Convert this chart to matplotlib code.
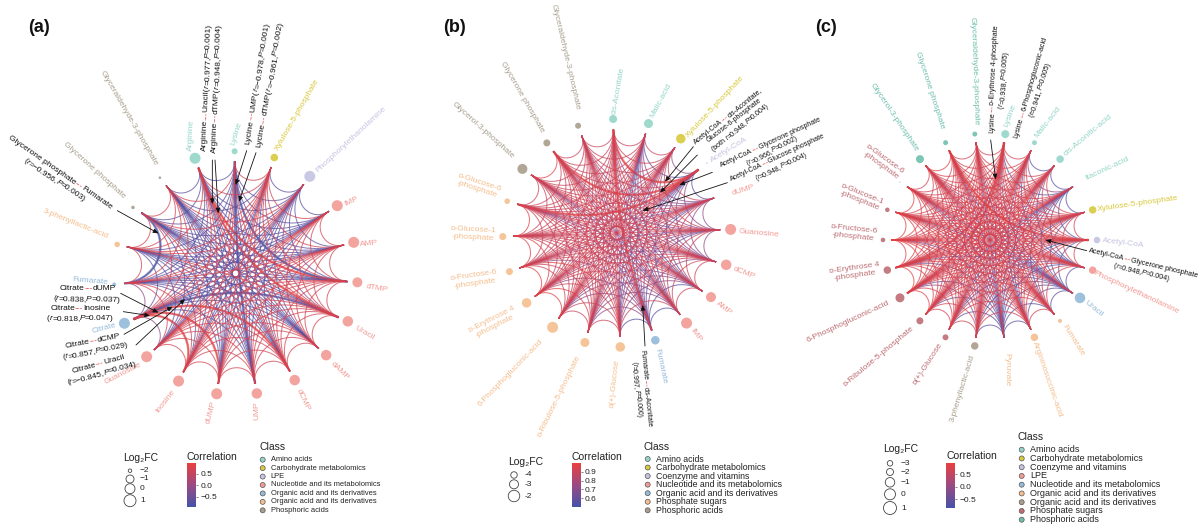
import re
import numpy as np
import matplotlib
matplotlib.use('Agg')
import matplotlib.pyplot as plt
from matplotlib.path import Path
from matplotlib.patches import PathPatch
from matplotlib.collections import PathCollection
from matplotlib.colors import LinearSegmentedColormap, Normalize
from matplotlib.cm import ScalarMappable

plt.rcParams['font.family'] = ['Liberation Sans', 'DejaVu Sans']

# ---------- data ----------
names_a = ['Arginine', 'Lysine', 'Xylulose-5-phosphate', 'Phosphorylethanolamine', 'IMP', 'AMP', 'dTMP', 'Uracil',
           'dAMP', 'dCMP', 'UMP', 'dUMP', 'Inosine', 'Guanosine', 'Citrate', 'Fumarate', '3-phenyllactic-acid',
           'Glycerone phosphate', 'Glyceraldehyde-3-phosphate']
fc_a = [.5, -1.45, -1.1, .5, .5, .5, 0, .25, .25, .25, .25, .5, .5, .5, .5, -1.9, -1.55, -2, -2.25]
class_a = ['amino', 'amino', 'carb', 'lpe', 'nuc', 'nuc', 'nuc', 'nuc', 'nuc', 'nuc', 'nuc', 'nuc', 'nuc', 'nuc',
           'org', 'org', 'orange', 'phos', 'phos']
links_a = ["brbbbRRbrbbrrpbrbb", "rbbbBrbbBbrbrbbbr", "brrrrbrrrbbrrrrb", "bbbpbbbbbrbrrbr", "rrrrrbrrrrbbbb",
           "rrrrrrrrbrbbb", "rrrrrrrbbbbb", "rrrrrrbbrbb", "rrrrrbbbbb", "rrrrRbbbb", "rrrbbbbb", "rrRbbbb",
           "rRrbrb", "prbbb", "pbrr", "rBr", "rr", "r"]
codes_a = {'R': .9, 'r': .7, 'p': -.1, 'b': -.7, 'B': -.9}
strong_a = [('Arginine', 'Uracil'), ('Arginine', 'dTMP'), ('Lysine', 'UMP'), ('Lysine', 'dTMP'),
            ('Glycerone phosphate', 'Fumarate'), ('Citrate', 'dUMP'), ('Citrate', 'Inosine'), ('Citrate', 'dCMP'),
            ('Citrate', 'Uracil')]

names_b = ['cis-Aconitate', 'Malic-acid', 'Xylulose-5-phosphate', 'Acetyl-CoA', 'dUMP', 'Guanosine', 'dCMP', 'AMP',
           'IMP', 'Fumarate', 'ᴅ(+)-Glucose', 'ᴅ-Ribulose-5-phosphate', '6-Phosphogluconic-acid',
           'ᴅ-Erythrose 4\n-phosphate', 'ᴅ-Fructose-6\n-phosphate', 'ᴅ-Glucose-1\n-phosphate',
           'ᴅ-Glucose-6\n-phosphate', 'Glycerol-3-phosphate', 'Glycerone phosphate', 'Glyceraldehyde-3-phosphate']
fc_b = [-3.4, -3, -2.8, -7.1, -8, -2.2, -2.4, -2.6, -2.2, -3.2, -2.8, -3, -2.2, -2.8, -3.8, -3.8, -4.6, -2.6, -3.8, -4.3]
class_b = ['amino', 'amino', 'carb', 'coenz', 'nuc', 'nuc', 'nuc', 'nuc', 'nuc', 'org', 'orange', 'orange', 'orange',
           'orange', 'orange', 'orange', 'orange', 'phos', 'phos', 'phos']
links_b = ["rrRmrrmrRrrrrrrrrrr", "rbmmmbbbbmrrrrrrrr", "mrrmrrmmrrrrrrrrr", "bmmbbmbmrrrrRrRr", "mmrrbmrrrrrmrrm",
           "mrrbmmrrmrrrmr", "rrmrrrmrrrrrr", "rbmmmrrrmmrr", "brmmrrrmmmr", "bmmmmrmmrm", "rrrRrrrrr", "rRrrrrrr",
           "RrrrrRr", "RRrrrr", "Rrrrr", "Rrrr", "rrr", "Rr", "r"]
codes_b = {'R': .97, 'r': .9, 'm': .72, 'b': .56}
strong_b = [('Acetyl-CoA', 'cis-Aconitate'), ('Acetyl-CoA', 'ᴅ-Glucose-6\n-phosphate'),
            ('Acetyl-CoA', 'Glycerone phosphate'), ('Fumarate', 'cis-Aconitate')]

names_c = ['Lysine', 'Malic-acid', 'cis-Aconitic-acid', 'Itaconic-acid', 'Xylulose-5-phosphate', 'Acetyl-CoA',
           'Phosphorylethanolamine', 'Uracil', 'Fumarate', 'Argininosuccinic-acid', 'Pyruvate', '3-phenyllactic-acid',
           'ᴅ(+)-Glucose', 'ᴅ-Ribulose-5-phosphate', '6-Phosphogluconic-acid', 'ᴅ-Erythrose 4\n-phosphate',
           'ᴅ-Fructose-6\n-phosphate', 'ᴅ-Glucose-1\n-phosphate', 'ᴅ-Glucose-6\n-phosphate', 'Glycerol-3-phosphate',
           'Glycerone phosphate', 'Glyceraldehyde-3-phosphate']
fc_c = [-1.6, -3.4, -1.8, -7, -1.8, -2.3, -1.8, -.3, -4.1, -1.8, -7, -1.8, -2.7, -2, -1.2, -1.8, -3.7, -3.7, -6.3,
        -1.6, -3.4, -3.4]
class_c = ['amino', 'amino', 'amino', 'amino', 'carb', 'coenz', 'lpe', 'nuc', 'orange', 'orange', 'orange', 'phos',
           'sugar', 'sugar', 'sugar', 'sugar', 'sugar', 'sugar', 'sugar', 'teal', 'teal', 'teal']
links_c = ["rrbrrrbrrprrrrrRrrrrr", "bprrbrrbrrrrrrrrrrrr", "brrbrrbrrrrrrrrrrrr", "bbbbbpbpbbprrrrprr",
           "rrbrrbrrrrrrrrrrr", "rbrrbrrrrrrrrrRr", "brrbrprrrrrrrrr", "bbbbbprbpbbpbb", "rbrrrrrrrrrrr",
           "brrrrrrrrrrr", "bbbbbbpbpbb", "rrprrrprrr", "rrrrRrrrr", "RrRrrrrr", "RRrrrrr", "RRrrrr", "RRrrr",
           "Rrrr", "rrr", "Rr", "r"]
codes_c = {'R': .9, 'r': .7, 'p': .05, 'b': -.6}
strong_c = [('Lysine', 'ᴅ-Erythrose 4\n-phosphate'), ('Lysine', '6-Phosphogluconic-acid'),
            ('Acetyl-CoA', 'Glycerone phosphate')]

# legend contents
fc_ticks_a, fc_diam_a = [-2, -1, 0, 1], [3.5, 8, 10, 12]
fc_ticks_b, fc_diam_b = [-4, -3, -2], [6.5, 9, 11.5]
fc_ticks_c, fc_diam_c = [-3, -2, -1, 0, 1], [5.5, 7, 9.5, 11, 13]
fc_labels_a = ['−2', '−1', '0', '1']
fc_labels_b = ['-4', '-3', '-2']
fc_labels_c = ['−3', '−2', '−1', '0', '1']
legend_names_a = ['Amino acids', 'Carbohydrate metabolomics', 'LPE', 'Nucleotide and its metabolomics',
                  'Organic acid and its derivatives', 'Organic acid and its derivatives', 'Phosphoric acids']
legend_keys_a = ['amino', 'carb', 'lpe', 'nuc', 'org', 'orange', 'phos']
legend_names_b = ['Amino acids', 'Carbohydrate metabolomics', 'Coenzyme and vitamins', 'Nucleotide and its metabolomics',
                  'Organic acid and its derivatives', 'Phosphate sugars', 'Phosphoric acids']
legend_keys_b = ['amino', 'carb', 'coenz', 'nuc', 'org', 'orange', 'phos']
legend_names_c = ['Amino acids', 'Carbohydrate metabolomics', 'Coenzyme and vitamins', 'LPE',
                  'Nucleotide and its metabolomics', 'Organic acid and its derivatives',
                  'Organic acid and its derivatives', 'Phosphate sugars', 'Phosphoric acids']
legend_keys_c = ['amino', 'carb', 'coenz', 'lpe', 'org', 'orange', 'phos', 'sugar', 'teal']

# ---------- styles ----------
colors = {'amino': '#93D6C8', 'carb': '#D8C93E', 'lpe': '#C4C4E2', 'coenz': '#C4C4E2', 'nuc': '#F29A94',
          'org': '#94BAD9', 'orange': '#F4BE8E', 'phos': '#A89E8C', 'sugar': '#BE6E74', 'teal': '#6FBFAC'}
colors_c = dict(colors, lpe='#F29A94', nuc='#94BAD9')
cmap = LinearSegmentedColormap.from_list('corr', ['#4652A8', '#9A4A84', '#E8403F'])

# node label centres and rotation, read in the 3x crops of each panel
lab_a = [(574, 407, 87), (711, 400, 73), (893, 345, 60), (1052, 420, 43), (1055, 605, 25), (1108, 730, 5),
         (1130, 865, -10), (1092, 1000, -30), (1018, 1112, -45), (910, 1200, -65), (772, 1232, 90), (633, 1238, 75),
         (495, 1205, 52), (370, 1120, 27), (312, 985, 15), (270, 843, -5), (225, 672, -22), (283, 512, -42),
         (385, 355, -60)]
lab_b = [(656, 272, 80), (784, 303, 62), (946, 320, 47), (987, 450, 32), (1030, 570, 17), (1078, 700, -5),
         (1032, 820, -22), (972, 925, -38), (888, 1005, -55), (782, 1100, -78), (645, 1150, 84), (477, 1188, 64),
         (332, 1120, 46), (280, 970, 27), (224, 838, 8), (218, 702, -3), (235, 558, -18), (250, 392, -42),
         (366, 290, -60), (495, 172, -77)]
lab_c = [(630, 347, 70), (743, 365, 52), (863, 407, 40), (922, 505, 25), (1012, 612, 8), (970, 730, -7),
         (1008, 877, -25), (882, 925, -40), (820, 1020, -58), (743, 1138, -71), (622, 1110, -90), (487, 1165, 73),
         (382, 1092, 57), (235, 1070, 40), (145, 964, 25), (165, 815, 8), (160, 698, -6), (182, 592, -22),
         (248, 488, -36), (282, 352, -56), (390, 271, -72), (522, 212, -88)]

notes_a = [('Arginine---Uracil(r=0.977,P=0.001)', 618, 262, 88), ('Arginine---dTMP(r=0.948,P=0.004)', 648, 266, 88),
           ('Lycine---UMP(r=−0.978,P=0.001)', 770, 250, 81), ('Lycine---dTMP(r=−0.961,P=0.002)', 808, 254, 80),
           ('Glycerone phosphate---Fumarate', 182, 515, -35), ('(r=−0.956,P=0.003)', 165, 538, -34),
           ('Citrate---dUMP', 262, 862, 0), ('(r=0.838,P=0.037)', 260, 895, -2),
           ('Citrate---Inosine', 241, 922, 0), ('(r=0.818,P=0.047)', 241, 953, 0),
           ('Citrate---dCMP', 278, 1020, 11), ('(r=0.857,P=0.029)', 286, 1050, 11),
           ('Citrate---Uracil', 294, 1090, 15), ('(r=−0.845,P=0.034)', 305, 1118, 15)]
arrows_a = [(637, 480, 637, 612), (645, 480, 655, 640), (740, 452, 707, 555), (768, 458, 717, 605),
            (352, 632, 475, 700), (362, 880, 475, 938), (370, 935, 450, 947), (372, 1003, 518, 920),
            (408, 1035, 555, 897)]
notes_b = [('Acetyl-CoA---cis-Aconitate,', 982, 347, 39), ('Glucose-6-phosphate', 1001, 360, 38),
           ('(both r=0.948,P=0.004)', 1020, 380, 39), ('Acetyl-CoA---Glycerone phosphate', 1110, 426, 25),
           ('(r=0.966,P=0.002)', 1116, 450, 27), ('Acetyl-CoA---Glucose phosphate', 1131, 471, 25),
           ('(r=0.948,P=0.004)', 1143, 498, 25), ('Fumarate---cis-Aconitate', 740, 1166, -84),
           ('(r=0.997,P=0.000)', 712, 1169, -85)]
arrows_b = [(880, 440, 795, 545), (892, 465, 780, 578), (937, 517, 838, 555), (982, 548, 728, 632),
            (735, 1038, 728, 915)]
notes_c = [('Lysine---ᴅ-Erythrose 4-phosphate', 580, 236, 87), ('(r=0.938,P=0.005)', 609, 238, 85),
           ('Lysine---6-Phosphogluconic-acid', 690, 262, 74), ('(r=0.941,P=0.005)', 718, 268, 72),
           ('Acetyl-CoA---Glycerone phosphate', 1030, 787, -13), ('(r=0.948,P=0.004)', 1026, 815, -14)]
arrows_c = [(572, 420, 587, 538), (860, 752, 737, 720)]

fig = plt.figure(figsize=(12, 5.26), dpi=100)
ax = fig.add_axes([0, 0, 1, 1])
ax.set_xlim(0, 1200)
ax.set_ylim(526, 0)
ax.axis('off')
renderer = fig.canvas.get_renderer()


def diam_to_s(d):
    return (np.asarray(d) * 0.72) ** 2


def arc_path(a, b, cx, cy, r):
    # near circular arc meeting the ring at right angles, pulled tighter for far apart nodes
    pa = np.array([np.cos(a), np.sin(a)])
    pb = np.array([np.cos(b), np.sin(b)])
    phi = np.arccos(np.clip(pa @ pb, -1, 1))
    h = 4 / 3 * np.tan((np.pi - phi) / 4) * np.tan(phi / 2)
    t = (1 - h) * (1 - 0.6 * (phi / np.pi) ** 2)
    pts = np.array([pa, pa * t, pb * t, pb]) * r
    pts = pts * [1, -1] + [cx, cy]
    return Path(pts, [Path.MOVETO, Path.CURVE4, Path.CURVE4, Path.CURVE4])


def seg_width(txt, size, style):
    t1 = ax.text(0, 0, txt + '.', fontsize=size, style=style)
    t2 = ax.text(0, 0, '.', fontsize=size, style=style)
    w = t1.get_window_extent(renderer).width - t2.get_window_extent(renderer).width
    t1.remove()
    t2.remove()
    return w


def note(txt, x, y, rot, size):
    # callout text: red dashes, italic r and P
    parts = [p for p in re.split(r'(---|\br(?==)|\bP(?==))', txt) if p]
    widths = []
    for p in parts:
        widths.append(seg_width(p, size, 'italic' if p in ('r', 'P') else 'normal'))
    pos = -sum(widths) / 2
    ca, sa = np.cos(np.radians(rot)), np.sin(np.radians(rot))
    for p, w in zip(parts, widths):
        px, py = x + (pos + w / 2) * ca, y - (pos + w / 2) * sa
        col = '#E5383B' if p == '---' else '#111111'
        ax.text(px, py, p, fontsize=size, color=col, rotation=rot, rotation_mode='anchor',
                ha='center', va='center_baseline', style='italic' if p in ('r', 'P') else 'normal')
        pos += w


def panel(names, fc, classes, links, codes, strong, pal, cx, cy, r, rm, start, ox, labs, notes, arrows,
          vmin, vmax, tick_vals, tick_diam, note_size):
    n = len(names)
    angles = np.radians(start - np.arange(n) * 360 / n)
    norm = Normalize(vmin, vmax)
    idx = {name: i for i, name in enumerate(names)}
    for pair in strong:
        i, j = idx[pair[0]], idx[pair[1]]
        ch = links[min(i, j)][max(i, j) - min(i, j) - 1]
        ax.add_patch(PathPatch(arc_path(angles[i], angles[j], cx, cy, r), fc='none',
                               ec=cmap(norm(codes[ch]), alpha=0.6), lw=1.8, zorder=2))
    paths, cols = [], []
    for i, row in enumerate(links):
        for j, ch in zip(range(i + 1, n), row):
            paths.append(arc_path(angles[i], angles[j], cx, cy, r))
            cols.append(cmap(norm(codes[ch]), alpha=0.72))
    # blue first so the red lies over it, as in the figure
    order = np.argsort([c[0] for c in cols])
    coll = PathCollection([paths[k] for k in order], facecolors='none', edgecolors=[cols[k] for k in order],
                          linewidths=0.75, zorder=2.1)
    coll.set_transform(ax.transData)
    ax.add_collection(coll)
    xp = [tick_vals[0] - 4 if ox != 0 else tick_vals[0] - 1] + list(tick_vals)
    fp = [0] + list(tick_diam)
    ax.scatter(cx + rm * np.cos(angles), cy - rm * np.sin(angles), s=diam_to_s(np.interp(fc, xp, fp)),
               c=[pal[k] for k in classes], linewidths=0, alpha=0.9, zorder=3)
    for name, key, (lx, ly, rot) in zip(names, classes, labs):
        ax.text(lx / 3 + ox, ly / 3, name, color=pal[key], fontsize=6, rotation=rot, rotation_mode='anchor',
                ha='center', va='center', linespacing=1.15)
    for txt, x, y, rot in notes:
        note(txt, x / 3 + ox, y / 3, rot, note_size)
    for x0, y0, x1, y1 in arrows:
        ax.annotate('', xy=(x1 / 3 + ox, y1 / 3), xytext=(x0 / 3 + ox, y0 / 3), zorder=4,
                    arrowprops=dict(arrowstyle='-|>,head_width=0.13,head_length=0.3', color='#111111', lw=0.6,
                                    shrinkA=0, shrinkB=0))


def legends(title_xy, xc, ys, tick_vals, tick_labels, tick_diam, tx, corr_xy, bar, ticks, tick_lab, vmin, vmax, ltx,
            class_xy, dot_x, text_x, rows, lnames, lkeys, pal, size):
    ax.text(title_xy[0], title_xy[1], 'Log₂FC', fontsize=7.5, ha='center', va='center', color='#222222')
    ax.scatter([xc] * len(ys), ys, s=diam_to_s(tick_diam), facecolors='white', edgecolors='#444444', linewidths=0.6)
    for y, lab in zip(ys, tick_labels):
        ax.text(tx, y, lab, fontsize=6, va='center', color='#222222')
    ax.text(corr_xy[0], corr_xy[1], 'Correlation', fontsize=7.5, ha='center', va='center', color='#222222')
    x0, x1, y0, y1 = bar
    cax = fig.add_axes([x0 / 1200, 1 - y1 / 526, (x1 - x0) / 1200, (y1 - y0) / 526])
    cb = fig.colorbar(ScalarMappable(Normalize(vmin, vmax), cmap), cax=cax, ticks=ticks)
    cb.ax.set_yticklabels(tick_lab, fontsize=6, color='#222222')
    cb.ax.tick_params(length=1.5, width=0.4, pad=1.5, color='#222222')
    cb.outline.set_visible(False)
    ax.text(class_xy[0], class_xy[1], 'Class', fontsize=7.5, va='center', color='#222222')
    ax.scatter([dot_x] * len(rows), rows, s=diam_to_s(5), c=[pal[k] for k in lkeys], edgecolors='#555555',
               linewidths=0.5)
    for y, lab in zip(rows, lnames):
        ax.text(text_x, y, lab, fontsize=size, va='center', color='#222222')


panel(names_a, fc_a, class_a, links_a, codes_a, strong_a, colors, 235.7, 273.3, 112, 122, 109.45, 0, lab_a,
      notes_a, arrows_a, -0.94, 0.97, fc_ticks_a, fc_diam_a, 6)
panel(names_b, fc_b, class_b, links_b, codes_b, strong_b, colors, 616.7, 233, 103.5, 114, 91.8, 400, lab_b,
      notes_b, arrows_b, 0.505, 0.995, fc_ticks_b, fc_diam_b, 5)
panel(names_c, fc_c, class_c, links_c, codes_c, strong_c, colors_c, 990, 240, 98.5, 107, 81.8, 800, lab_c,
      notes_c, arrows_c, -0.85, 0.945, fc_ticks_c, fc_diam_c, 5.2)

for lab, x in zip(['(a)', '(b)', '(c)'], [39, 454, 826]):
    ax.text(x, 27, lab, fontsize=13, fontweight='bold', ha='center', va='center', color='#111111')

legends((141, 458), 130, [470.7, 479, 488.7, 500.7], fc_ticks_a, fc_labels_a, fc_diam_a, 140, (212, 456.7),
        (187, 196, 463.3, 506.7), [-0.5, 0, 0.5], ['−0.5', '0.0', '0.5'], -0.94, 0.97, 199, (259, 447), 262.7, 270.7,
        np.linspace(459.7, 510.3, 7), legend_names_a, legend_keys_a, colors, 5.4)
legends((525.7, 461.7), 514, [475, 484.3, 496], fc_ticks_b, fc_labels_b, fc_diam_b, 524.3, (597.3, 456.7),
        (571.7, 580.7, 463.3, 506.7), [0.6, 0.7, 0.8, 0.9], ['0.6', '0.7', '0.8', '0.9'], 0.505, 0.995, 584,
        (643, 447), 647.7, 655.7, np.linspace(459, 510.3, 7), legend_names_b, legend_keys_b, colors, 6.3)
legends((900.7, 449.3), 890, [463.3, 472, 482.3, 494.3, 508], fc_ticks_c, fc_labels_c, fc_diam_c, 901, (972.3, 455.7),
        (946.3, 955.3, 463.3, 507.7), [-0.5, 0, 0.5], ['−0.5', '0.0', '0.5'], -0.85, 0.945, 959, (1017.7, 437.3),
        1021.7, 1030.3, np.linspace(449.7, 519.7, 9), legend_names_c, legend_keys_c, colors_c, 6.5)

fig.savefig('out.png', dpi=100)
